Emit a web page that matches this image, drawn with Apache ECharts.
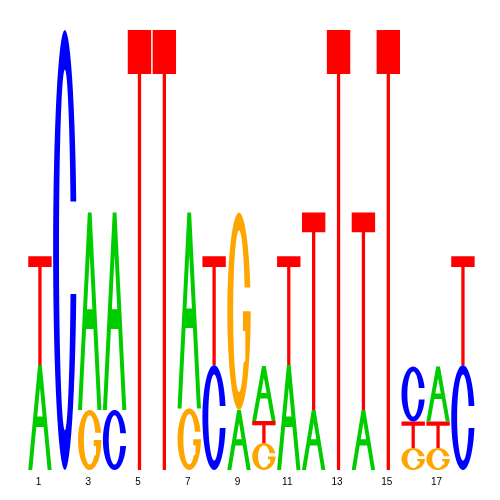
<!DOCTYPE html>
<html>
<head>
<meta charset="utf-8">
<script src="https://cdn.jsdelivr.net/npm/echarts@6/dist/echarts.min.js"></script>
<style>
  html, body { margin: 0; padding: 0; background: #fff; }
  #main { width: 500px; height: 500px; }
</style>
</head>
<body>
<div id="main"></div>
<script>
// positions of the motif
const positions = ['1','2','3','4','5','6','7','8','9','10','11','12','13','14','15','16','17','18'];
// letters stacked at each position, bottom to top
const stackLetters = ['AT','C','GA','CA','T','T','GA','CT','AG','GTA','AT','AT','T','AT','T','GTC','GTA','CT'];
// letter heights (bits), same order as stackLetters
const stackHeights = [
  [0.477, 0.495],
  [2.0],
  [0.273, 0.897],
  [0.273, 0.897],
  [2.0],
  [2.0],
  [0.28, 0.89],
  [0.477, 0.495],
  [0.273, 0.897],
  [0.123, 0.10, 0.25],
  [0.477, 0.495],
  [0.273, 0.897],
  [2.0],
  [0.273, 0.897],
  [2.0],
  [0.10, 0.12, 0.25],
  [0.10, 0.12, 0.25],
  [0.477, 0.495]
];
const letterColors = { A: '#00CC00', C: '#0000FF', G: '#FFA500', T: '#FF0000' };
const letterOrder = 'ACGT';

// unit glyph outlines, y up, box 0..1
function arc(cx, cy, rx, ry, a0, a1, n) {
  const pts = [];
  for (let i = 0; i <= n; i++) {
    const t = (a0 + (a1 - a0) * i / n) * Math.PI / 180;
    pts.push([cx + rx * Math.cos(t), cy + ry * Math.sin(t)]);
  }
  return pts;
}
const IRX = 0.25, IRY = 0.41;
function cRing(gapTop, gapBot) {
  const ao = Math.asin((gapTop - 0.5) / 0.5) * 180 / Math.PI;
  const ao2 = Math.asin((0.5 - gapBot) / 0.5) * 180 / Math.PI;
  const ai = Math.asin((gapTop - 0.5) / IRY) * 180 / Math.PI;
  const ai2 = Math.asin((0.5 - gapBot) / IRY) * 180 / Math.PI;
  const outer = arc(0.5, 0.5, 0.5, 0.5, ao, 360 - ao2, 60);
  const inner = arc(0.5, 0.5, IRX, IRY, 360 - ai2, ai, 60);
  return [outer.concat(inner)];
}
function gRing() {
  const ao = Math.asin(0.12 / 0.5) * 180 / Math.PI;
  const ai = Math.asin(0.12 / IRY) * 180 / Math.PI;
  const outer = arc(0.5, 0.5, 0.5, 0.5, ao, 360, 60);
  const bar = [[0.67, 0.5], [0.67, 0.4], [0.77, 0.4], [0.77, 0.25]];
  const inner = arc(0.5, 0.5, IRX, IRY, 320, ai, 60);
  return [outer.concat(bar, inner)];
}
function tGlyph(barFrac) {
  const b = 1 - barFrac;
  return [[[0, 1], [1, 1], [1, b], [0.57, b], [0.57, 0], [0.43, 0], [0.43, b], [0, b]]];
}
const glyphs = {
  A: [
    [[0, 0], [0.42, 1], [0.58, 1], [1, 0], [0.83, 0], [0.658, 0.41], [0.342, 0.41], [0.17, 0]],
    [[0.384, 0.51], [0.616, 0.51], [0.5, 0.786]]
  ],
  C: cRing(0.61, 0.40),
  G: gRing()
};

function toPath(rings, x, y, w, h) {
  return rings.map(function (r) {
    return 'M' + r.map(function (p) {
      return (x + p[0] * w).toFixed(2) + ' ' + (y + (1 - p[1]) * h).toFixed(2);
    }).join('L') + 'Z';
  }).join(' ');
}

const logoData = [];
stackLetters.forEach(function (letters, i) {
  let base = 0;
  for (let k = 0; k < letters.length; k++) {
    const hgt = stackHeights[i][k];
    logoData.push([i, base, base + hgt, letterOrder.indexOf(letters[k])]);
    base += hgt;
  }
});

const chart = echarts.init(document.getElementById('main'), null, { renderer: 'canvas' });
chart.setOption({
  animation: false,
  grid: { left: 27.5, right: 24.6, top: 30, bottom: 30 },
  xAxis: {
    type: 'category',
    data: positions,
    boundaryGap: true,
    axisLine: { show: false },
    axisTick: { show: false },
    splitLine: { show: false },
    axisLabel: {
      interval: 1,
      margin: 7,
      fontSize: 10,
      color: '#000',
      fontFamily: 'Liberation Sans',
      padding: [0, 3, 0, 0]
    }
  },
  yAxis: { type: 'value', min: 0, max: 2, show: false },
  series: [{
    type: 'custom',
    data: logoData,
    encode: { x: 0, y: [1, 2] },
    renderItem: function (params, api) {
      const xi = api.value(0);
      const lo = api.coord([xi, api.value(1)]);
      const hi = api.coord([xi, api.value(2)]);
      const bw = api.size([1, 0])[0];
      const w = bw * 0.94;
      const h = lo[1] - hi[1];
      const letter = letterOrder.charAt(api.value(3));
      const rings = letter === 'T' ? tGlyph(Math.max(0.1, 4.2 / h)) : glyphs[letter];
      return {
        type: 'path',
        shape: { pathData: toPath(rings, lo[0] - w / 2, hi[1], w, h) },
        style: { fill: letterColors[letter], stroke: null }
      };
    }
  }]
});
</script>
</body>
</html>
